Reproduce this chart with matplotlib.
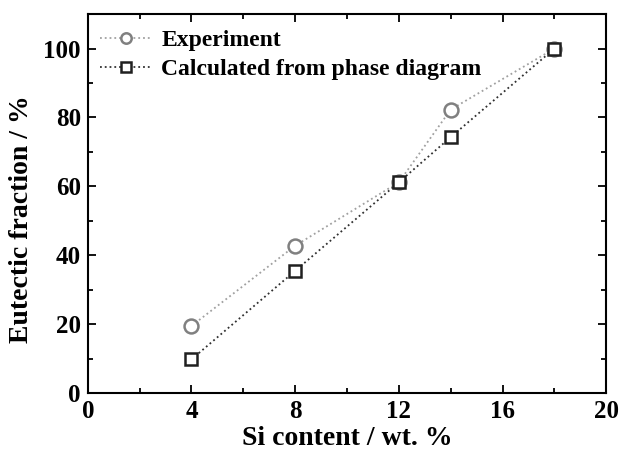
import matplotlib
matplotlib.use("Agg")
import matplotlib.pyplot as plt
from matplotlib.ticker import MultipleLocator

# data
si_exp = [4, 8, 12, 14, 18]
frac_exp = [19.5, 42.8, 61.2, 82.3, 100]
si_calc = [4, 8, 12, 14, 18]
frac_calc = [9.8, 35.5, 61.2, 74.3, 100]

plt.rcParams['font.family'] = ['Liberation Serif', 'DejaVu Serif']
plt.rcParams['font.weight'] = 'bold'

fig = plt.figure(figsize=(6.27, 4.54), dpi=100)
ax = fig.add_axes([0.140, 0.134, 0.827, 0.835])

ax.plot(si_exp, frac_exp, linestyle=':', color='#a0a0a0', lw=1.3,
        marker='o', ms=10, mfc='white', mec='#808080', mew=1.8,
        label='Experiment')
ax.plot(si_calc, frac_calc, linestyle=':', color='#303030', lw=1.3,
        marker='s', ms=9, mfc='white', mec='#202020', mew=1.8,
        label='Calculated from phase diagram')

ax.set_xlim(0, 20)
ax.set_ylim(0, 110)
ax.xaxis.set_major_locator(MultipleLocator(4))
ax.xaxis.set_minor_locator(MultipleLocator(2))
ax.yaxis.set_major_locator(MultipleLocator(20))
ax.yaxis.set_minor_locator(MultipleLocator(10))
ax.tick_params(which='both', direction='in', top=True, right=True, width=1.3)
ax.tick_params(which='major', length=6, labelsize=18, pad=5)
ax.tick_params(which='minor', length=3.5)
for s in ax.spines.values():
    s.set_linewidth(1.5)

ax.set_xlabel('Si content / wt. %', fontsize=20, fontweight='bold', labelpad=2)
ax.set_ylabel('Eutectic fraction / %', fontsize=20, fontweight='bold')
ax.yaxis.set_label_coords(-0.104, 0.46)

ax.legend(loc='upper left', bbox_to_anchor=(0, 0.99), frameon=False,
          fontsize=17, handlelength=2.2, markerscale=0.75,
          handletextpad=0.42, borderaxespad=0.3, labelspacing=0.3,
          borderpad=0.2)

fig.savefig('out.png', dpi=100)
